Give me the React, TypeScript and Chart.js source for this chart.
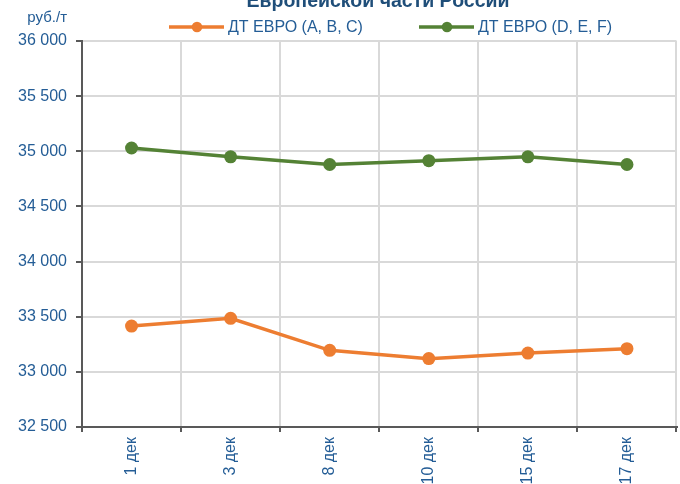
import React, { useEffect, useRef } from "react";
import { Chart, registerables } from "chart.js";

Chart.register(...registerables);

const categories = ["1 дек", "3 дек", "8 дек", "10 дек", "15 дек", "17 дек"];
const seriesABC = [33415, 33485, 33195, 33120, 33170, 33210];
const seriesDEF = [35030, 34950, 34880, 34915, 34950, 34880];
const seriesNames = ["ДТ ЕВРО (A, B, C)", "ДТ ЕВРО (D, E, F)"];
const titleText = "Европейской части России";
const unitText = "руб./т";

const FONT = "'Liberation Sans', Arial, sans-serif";
const TEXT = "#245D96";
const ORANGE = "#ED7D31";
const GREEN = "#548235";

const CANVAS_W = 683;

const fmt = (v: number) => {
  const s = String(Math.round(v));
  return s.replace(/\B(?=(\d{3})+(?!\d))/g, " ");
};

const decorPlugin = {
  id: "decor",
  afterDraw(chart: any) {
    const ctx = chart.ctx;
    ctx.save();
    // title (cut at the top)
    ctx.fillStyle = "#1F4E79";
    ctx.font = `bold 19.5px ${FONT}`;
    ctx.textAlign = "center";
    ctx.textBaseline = "alphabetic";
    ctx.fillText(titleText, 378, 6.5);
    // unit
    ctx.fillStyle = TEXT;
    ctx.font = `15px ${FONT}`;
    ctx.textAlign = "right";
    ctx.textBaseline = "middle";
    ctx.fillText(unitText, 67, 18);
    // legend
    const items = [
      { x: 169, ds: chart.data.datasets[0] },
      { x: 419, ds: chart.data.datasets[1] },
    ];
    const y = 27;
    items.forEach((it) => {
      const col = it.ds.borderColor;
      ctx.strokeStyle = col;
      ctx.lineWidth = 3.5;
      ctx.beginPath();
      ctx.moveTo(it.x, y);
      ctx.lineTo(it.x + 55, y);
      ctx.stroke();
      ctx.fillStyle = col;
      ctx.beginPath();
      ctx.arc(it.x + 28, y, 5.3, 0, Math.PI * 2);
      ctx.fill();
      ctx.fillStyle = TEXT;
      ctx.font = `16px ${FONT}`;
      ctx.textAlign = "left";
      ctx.textBaseline = "middle";
      ctx.fillText(it.ds.label, it.x + 59, y + 1);
    });
    ctx.restore();
  },
};

export default function App() {
  const ref = useRef<HTMLCanvasElement | null>(null);
  useEffect(() => {
    if (!ref.current) return;
    const chart = new Chart(ref.current, {
      type: "line",
      data: {
        labels: categories,
        datasets: [
          {
            label: seriesNames[0],
            data: seriesABC,
            borderColor: ORANGE,
            backgroundColor: ORANGE,
            borderWidth: 3.5,
            pointRadius: 6.5,
            pointBorderWidth: 0,
            pointBackgroundColor: ORANGE,
            tension: 0,
          },
          {
            label: seriesNames[1],
            data: seriesDEF,
            borderColor: GREEN,
            backgroundColor: GREEN,
            borderWidth: 3.5,
            pointRadius: 6.5,
            pointBorderWidth: 0,
            pointBackgroundColor: GREEN,
            tension: 0,
          },
        ],
      },
      options: {
        animation: false,
        responsive: false,
        maintainAspectRatio: false,
        layout: { padding: { top: 41, right: 4, left: 0, bottom: 0 } },
        plugins: {
          legend: { display: false },
          title: { display: false },
          tooltip: { enabled: false },
        },
        scales: {
          x: {
            type: "category",
            offset: true,
            grid: {
              offset: true,
              color: "#D9D9D9",
              lineWidth: 2,
              tickColor: "#595959",
              tickLength: 5,
              drawTicks: true,
            },
            border: { color: "#595959", width: 2 },
            ticks: {
              color: TEXT,
              font: { family: FONT, size: 16 },
              maxRotation: 90,
              minRotation: 90,
              padding: 5,
              autoSkip: false,
            },
            afterFit: (axis: any) => {
              axis.height = 57;
              axis.paddingRight = 0;
              axis.paddingLeft = 0;
            },
          },
          y: {
            min: 32500,
            max: 36000,
            grid: {
              color: "#D9D9D9",
              lineWidth: 2,
              tickColor: "#595959",
              tickLength: 6,
            },
            border: { color: "#595959", width: 2 },
            ticks: {
              stepSize: 500,
              color: TEXT,
              font: { family: FONT, size: 16 },
              padding: 9,
              callback: (v: any) => fmt(Number(v)),
            },
            afterFit: (axis: any) => {
              axis.width = 82;
              axis.paddingTop = 0;
              axis.paddingBottom = 0;
            },
          },
        },
      },
      plugins: [decorPlugin],
    });
    return () => chart.destroy();
  }, []);
  return (
    <div style={{ position: "fixed", left: 0, top: 0, width: 680, height: 484, overflow: "hidden", background: "#fff" }}>
      <canvas
        ref={ref}
        width={CANVAS_W}
        height={484}
        style={{ display: "block", width: CANVAS_W, height: 484 }}
      />
    </div>
  );
}
